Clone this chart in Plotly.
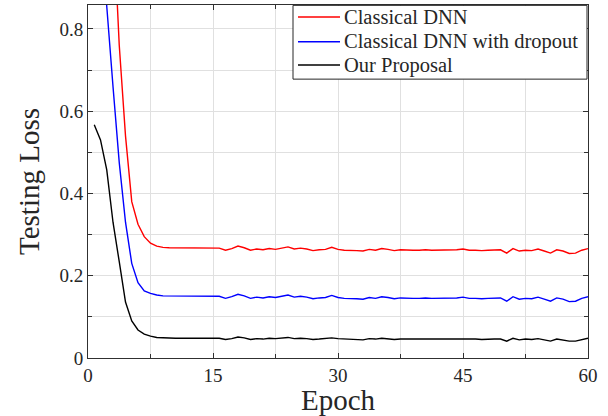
import plotly.graph_objects as go

epochs = [0.75, 1.5, 2.25, 3.0, 3.75, 4.5, 5.25, 6.0, 6.75, 7.5,
          8.25, 9.0, 9.75, 10.5, 11.25, 12.0, 12.75, 13.5, 14.25, 15.0,
          15.75, 16.5, 17.25, 18.0, 18.75, 19.5, 20.25, 21.0, 21.75, 22.5,
          23.25, 24.0, 24.75, 25.5, 26.25, 27.0, 27.75, 28.5, 29.25, 30.0,
          30.75, 31.5, 32.25, 33.0, 33.75, 34.5, 35.25, 36.0, 36.75, 37.5,
          38.25, 39.0, 39.75, 40.5, 41.25, 42.0, 42.75, 43.5, 44.25, 45.0,
          45.75, 46.5, 47.25, 48.0, 48.75, 49.5, 50.25, 51.0, 51.75, 52.5,
          53.25, 54.0, 54.75, 55.5, 56.25, 57.0, 57.75, 58.5, 59.25, 60.0]

dnn = [1.90, 1.62, 1.36, 1.08, 0.76, 0.54, 0.38, 0.325, 0.295, 0.279,
       0.272, 0.269, 0.268, 0.268, 0.267, 0.268, 0.268, 0.267, 0.268, 0.268,
       0.267, 0.262, 0.266, 0.272, 0.268, 0.262, 0.265, 0.263, 0.266, 0.264,
       0.267, 0.270, 0.265, 0.267, 0.265, 0.261, 0.263, 0.264, 0.269, 0.264,
       0.262, 0.262, 0.261, 0.260, 0.264, 0.262, 0.266, 0.264, 0.261, 0.263,
       0.262, 0.262, 0.262, 0.263, 0.262, 0.262, 0.263, 0.262, 0.263, 0.265,
       0.262, 0.262, 0.261, 0.262, 0.262, 0.263, 0.255, 0.266, 0.260, 0.262,
       0.261, 0.265, 0.260, 0.255, 0.263, 0.260, 0.254, 0.255, 0.262, 0.266]

dnn_dropout = [1.32, 1.08, 0.855, 0.66, 0.475, 0.33, 0.23, 0.183, 0.163, 0.157,
               0.153, 0.151, 0.151, 0.151, 0.150, 0.151, 0.151, 0.150, 0.151, 0.151,
               0.150, 0.145, 0.149, 0.155, 0.151, 0.145, 0.148, 0.146, 0.149, 0.147,
               0.150, 0.153, 0.148, 0.150, 0.148, 0.144, 0.146, 0.147, 0.152, 0.147,
               0.145, 0.145, 0.144, 0.143, 0.147, 0.145, 0.149, 0.147, 0.144, 0.146,
               0.145, 0.145, 0.145, 0.146, 0.145, 0.145, 0.146, 0.145, 0.146, 0.148,
               0.145, 0.145, 0.144, 0.145, 0.145, 0.146, 0.138, 0.149, 0.143, 0.145,
               0.144, 0.148, 0.143, 0.138, 0.146, 0.143, 0.137, 0.138, 0.145, 0.149]

proposal = [0.567, 0.530, 0.457, 0.330, 0.234, 0.136, 0.090, 0.068, 0.058, 0.053,
            0.050, 0.049, 0.048, 0.048, 0.048, 0.048, 0.048, 0.048, 0.048, 0.048,
            0.048, 0.045, 0.047, 0.051, 0.049, 0.045, 0.047, 0.046, 0.048, 0.047,
            0.048, 0.050, 0.047, 0.048, 0.047, 0.045, 0.046, 0.047, 0.049, 0.047,
            0.046, 0.046, 0.045, 0.044, 0.047, 0.046, 0.048, 0.047, 0.045, 0.046,
            0.046, 0.046, 0.046, 0.047, 0.046, 0.046, 0.047, 0.046, 0.046, 0.047,
            0.046, 0.046, 0.045, 0.046, 0.046, 0.046, 0.041, 0.048, 0.044, 0.046,
            0.045, 0.047, 0.044, 0.041, 0.046, 0.044, 0.041, 0.041, 0.045, 0.048]

series_names = ["Classical DNN", "Classical DNN with dropout", "Our Proposal"]
series_colors = ["#ff0000", "#0000ff", "#000000"]
x_ticks = [0, 15, 30, 45, 60]
y_ticks = [0, 0.2, 0.4, 0.6, 0.8]
y_tick_labels = ["0", "0.2", "0.4", "0.6", "0.8"]

FONT = "Liberation Serif"
AXC = "#303030"
TXT = "#262626"
GRID = "#e0e0e0"

fig = go.Figure()
for name, vals, col in zip(series_names, [dnn, dnn_dropout, proposal], series_colors):
    fig.add_trace(go.Scatter(x=epochs, y=vals, mode="lines", name=name,
                             line=dict(color=col, width=1.4), showlegend=False))

# legend box (drawn in paper coordinates, styled like the MATLAB legend)
leg_x0, leg_x1, leg_y0, leg_y1 = 0.41, 0.998, 0.790, 0.999
leg_rows = [0.966, 0.896, 0.830]
shapes = [dict(type="rect", xref="paper", yref="paper", x0=leg_x0, x1=leg_x1,
               y0=leg_y0, y1=leg_y1, fillcolor="white",
               line=dict(color=TXT, width=1), layer="above")]
annotations = []
for name, col, yy in zip(series_names, series_colors, leg_rows):
    shapes.append(dict(type="line", xref="paper", yref="paper", x0=0.420, x1=0.504,
                       y0=yy, y1=yy, line=dict(color=col, width=1.4), layer="above"))
    annotations.append(dict(xref="paper", yref="paper", x=0.508, y=yy, text=name,
                            showarrow=False, xanchor="left", yanchor="middle",
                            font=dict(family=FONT, size=20.5, color=TXT)))

common = dict(showline=True, linecolor=AXC, linewidth=1, mirror="ticks",
              ticks="inside", ticklen=5, tickcolor=AXC, tickwidth=1,
              showgrid=True, gridcolor=GRID, gridwidth=1, zeroline=False,
              tickfont=dict(family=FONT, size=19, color=TXT))

fig.update_layout(
    width=608, height=416,
    margin=dict(l=88, r=20, t=5, b=58),
    paper_bgcolor="white", plot_bgcolor="white",
    font=dict(family=FONT, color=TXT),
    showlegend=False,
    shapes=shapes,
    annotations=annotations,
    xaxis=dict(range=[0, 60], tickvals=x_ticks, ticktext=[str(t) for t in x_ticks],
               minor=dict(dtick=7.5, tick0=0, ticks="inside", ticklen=4,
                          tickcolor=AXC, showgrid=True, gridcolor=GRID),
               title=dict(text="Epoch", font=dict(family=FONT, size=29, color=TXT),
                          standoff=1),
               **common),
    yaxis=dict(range=[0, 0.858], tickvals=y_ticks, ticktext=y_tick_labels,
               minor=dict(dtick=0.1, tick0=0, ticks="inside", ticklen=4,
                          tickcolor=AXC, showgrid=True, gridcolor=GRID),
               title=dict(text="Testing Loss", font=dict(family=FONT, size=29, color=TXT),
                          standoff=11),
               **common),
)

fig.write_html("out.html")
